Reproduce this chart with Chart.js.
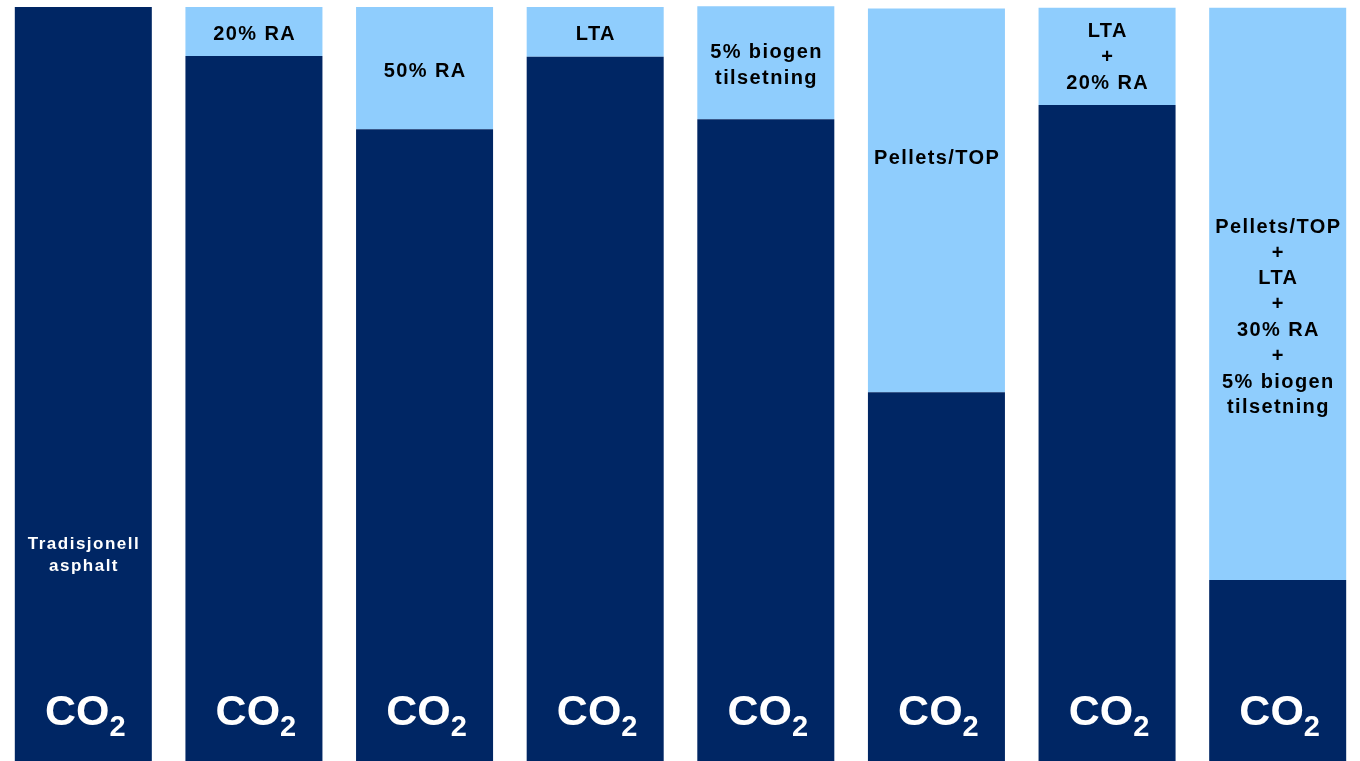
<!DOCTYPE html>
<html>
<head>
<meta charset="utf-8">
<script src="https://cdn.jsdelivr.net/npm/chart.js@4"></script>
<style>
  html, body { margin: 0; padding: 0; background: #fff; overflow: hidden; }
  #wrap { position: absolute; left: -2px; top: 0; width: 1365px; height: 761px; }
</style>
</head>
<body>
<div id="wrap"><canvas id="co2Chart"></canvas></div>
<script>
// --- Data (share of traditional asphalt CO2, %) ---
const categories = ["Tradisjonell asphalt", "20% RA", "50% RA", "LTA", "5% biogen tilsetning",
  "Pellets/TOP", "LTA + 20% RA", "Pellets/TOP + LTA + 30% RA + 5% biogen tilsetning"];
const co2Remaining = [100, 93.5, 83.8, 93.4, 85.1, 48.9, 87.0, 24.0];
const co2Saved = [0, 6.5, 16.2, 6.6, 15.0, 50.9, 12.9, 75.9];
const barLabels = [
  ["Tradisjonell", "asphalt"],
  ["20% RA"],
  ["50% RA"],
  ["LTA"],
  ["5% biogen", "tilsetning"],
  ["Pellets/TOP"],
  ["LTA", "+", "20% RA"],
  ["Pellets/TOP", "+", "LTA", "+", "30% RA", "+", "5% biogen", "tilsetning"]
];
// label anchor in value units
const labelAt = [27.3, 96.4, 91.4, 96.4, 92.2, 79.9, 93.3, 58.8];

const DARK = "#002664";
const LIGHT = "#8fcdfd";

// --- Label plugin ---
const labelPlugin = {
  id: "barText",
  afterDatasetsDraw(chart) {
    const { ctx, scales: { x, y } } = chart;
    ctx.save();
    categories.forEach((c, i) => {
      const cx = x.getPixelForValue(i);
      const lines = barLabels[i];
      const first = i === 0;
      ctx.textAlign = "center";
      ctx.textBaseline = "middle";
      ctx.font = first ? "bold 17px 'Liberation Sans', Arial, sans-serif"
                       : "bold 20px 'Liberation Sans', Arial, sans-serif";
      ctx.letterSpacing = first ? "1.5px" : "1.4px";
      ctx.fillStyle = first ? "#fff" : "#000";
      const lh = first ? 22 : 25.8;
      const cy = y.getPixelForValue(labelAt[i]);
      lines.forEach((t, k) => {
        ctx.fillText(t, cx + 0.7, cy + (k - (lines.length - 1) / 2) * lh);
      });

      // CO2 mark
      ctx.letterSpacing = "0px";
      ctx.fillStyle = "#fff";
      ctx.textBaseline = "alphabetic";
      ctx.textAlign = "left";
      ctx.font = "bold 43px 'Liberation Sans', Arial, sans-serif";
      const wCO = ctx.measureText("CO").width;
      ctx.font = "bold 29px 'Liberation Sans', Arial, sans-serif";
      const w2 = ctx.measureText("2").width;
      const x0 = cx + 2 - (wCO + w2) / 2;
      const base = y.getPixelForValue(4.8);
      ctx.font = "bold 43px 'Liberation Sans', Arial, sans-serif";
      ctx.fillText("CO", x0, base);
      ctx.font = "bold 29px 'Liberation Sans', Arial, sans-serif";
      ctx.fillText("2", x0 + wCO, base + 11);
    });
    ctx.restore();
  }
};

// --- Render Chart ---
new Chart(document.getElementById("co2Chart"), {
  type: "bar",
  data: {
    labels: categories,
    datasets: [
      { data: co2Remaining, backgroundColor: DARK },
      { data: co2Saved, backgroundColor: LIGHT }
    ]
  },
  options: {
    responsive: true,
    maintainAspectRatio: false,
    animation: false,
    layout: { padding: 0 },
    datasets: { bar: { barPercentage: 0.803, categoryPercentage: 1, borderWidth: 0 } },
    plugins: { legend: { display: false }, tooltip: { enabled: false } },
    scales: {
      x: { display: false, stacked: true },
      y: { display: false, stacked: true, min: 0, max: 100.93 }
    }
  },
  plugins: [labelPlugin]
});
</script>
</body>
</html>
